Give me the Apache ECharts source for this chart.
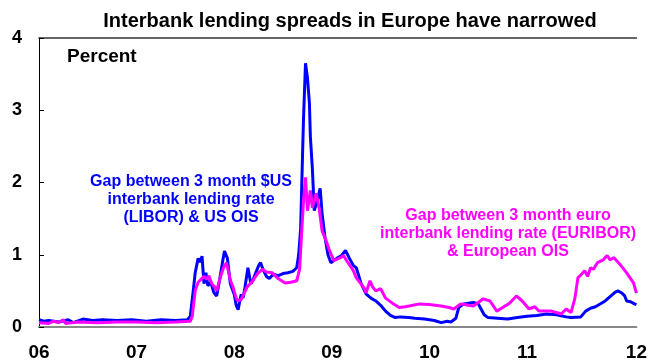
<!DOCTYPE html>
<html><head><meta charset="utf-8">
<script src="https://cdn.jsdelivr.net/npm/echarts@6/dist/echarts.min.js"></script>
<style>html,body{margin:0;padding:0;background:#fff}#c{width:650px;height:363px}</style>
</head><body><div id="c"></div>
<script>
const titleText = "Interbank lending spreads in Europe have narrowed";
const yTicks = [0, 1, 2, 3, 4];
const xTickLabels = {2006:"06",2007:"07",2008:"08",2009:"09",2010:"10",2011:"11",2012:"12"};
const usLabel = "Gap between 3 month $US\ninterbank lending rate\n(LIBOR) & US OIS";
const euLabel = "Gap between 3 month euro\ninterbank lending rate (EURIBOR)\n& European OIS";

const usYears = [2006.00,2006.05,2006.10,2006.20,2006.30,2006.35,2006.45,2006.55,2006.65,2006.80,2006.95,2007.10,2007.25,2007.40,2007.52,2007.55,2007.58,2007.60,2007.63,2007.65,2007.67,2007.69,2007.71,2007.73,2007.76,2007.79,2007.82,2007.85,2007.88,2007.90,2007.93,2007.96,2008.00,2008.02,2008.04,2008.07,2008.09,2008.11,2008.14,2008.17,2008.19,2008.22,2008.25,2008.27,2008.30,2008.33,2008.36,2008.40,2008.45,2008.50,2008.55,2008.60,2008.64,2008.66,2008.68,2008.70,2008.71,2008.73,2008.75,2008.77,2008.78,2008.80,2008.82,2008.85,2008.88,2008.90,2008.93,2008.96,2008.99,2009.05,2009.10,2009.14,2009.18,2009.22,2009.25,2009.30,2009.35,2009.40,2009.45,2009.50,2009.55,2009.60,2009.65,2009.70,2009.79,2009.85,2009.95,2010.05,2010.12,2010.18,2010.22,2010.27,2010.30,2010.35,2010.40,2010.45,2010.50,2010.52,2010.56,2010.60,2010.70,2010.80,2010.90,2011.00,2011.10,2011.20,2011.30,2011.40,2011.45,2011.55,2011.60,2011.65,2011.70,2011.80,2011.85,2011.90,2011.93,2011.97,2012.00,2012.02,2012.06,2012.10,2012.12];
const usValues = [0.10,0.08,0.09,0.07,0.10,0.06,0.11,0.09,0.10,0.09,0.10,0.08,0.10,0.09,0.10,0.15,0.50,0.75,0.95,0.90,0.98,0.60,0.75,0.57,0.62,0.48,0.43,0.65,0.90,1.05,0.95,0.60,0.45,0.30,0.24,0.45,0.40,0.55,0.82,0.60,0.64,0.75,0.85,0.89,0.78,0.70,0.67,0.73,0.71,0.74,0.75,0.77,0.82,1.00,1.36,2.40,2.90,3.65,3.45,3.10,2.63,2.20,1.61,1.75,1.92,1.57,1.24,1.00,0.89,0.95,0.99,1.06,0.95,0.85,0.82,0.60,0.46,0.40,0.36,0.30,0.22,0.16,0.13,0.14,0.13,0.12,0.11,0.09,0.06,0.08,0.07,0.12,0.27,0.32,0.33,0.34,0.32,0.27,0.17,0.13,0.12,0.11,0.13,0.15,0.16,0.18,0.17,0.14,0.13,0.14,0.22,0.26,0.28,0.36,0.42,0.48,0.50,0.47,0.43,0.36,0.35,0.32,0.31];

const euYears = [2006.00,2006.10,2006.15,2006.20,2006.25,2006.27,2006.40,2006.60,2006.80,2007.00,2007.20,2007.40,2007.55,2007.57,2007.60,2007.63,2007.65,2007.69,2007.72,2007.74,2007.77,2007.80,2007.82,2007.86,2007.89,2007.92,2007.96,2007.99,2008.02,2008.04,2008.07,2008.09,2008.13,2008.19,2008.24,2008.29,2008.33,2008.39,2008.45,2008.52,2008.58,2008.64,2008.67,2008.69,2008.71,2008.73,2008.75,2008.78,2008.80,2008.84,2008.87,2008.90,2008.94,2008.97,2009.02,2009.09,2009.12,2009.15,2009.22,2009.25,2009.29,2009.33,2009.35,2009.39,2009.42,2009.45,2009.50,2009.55,2009.62,2009.69,2009.75,2009.79,2009.90,2010.00,2010.12,2010.20,2010.25,2010.28,2010.32,2010.40,2010.45,2010.50,2010.55,2010.62,2010.65,2010.69,2010.75,2010.82,2010.89,2010.95,2011.02,2011.08,2011.12,2011.25,2011.30,2011.35,2011.40,2011.42,2011.45,2011.49,2011.52,2011.55,2011.59,2011.62,2011.65,2011.68,2011.72,2011.78,2011.82,2011.85,2011.89,2011.95,2012.02,2012.09,2012.12];
const euValues = [0.06,0.05,0.08,0.06,0.10,0.05,0.07,0.06,0.07,0.07,0.06,0.07,0.08,0.15,0.50,0.62,0.64,0.70,0.66,0.71,0.60,0.55,0.50,0.70,0.82,0.89,0.65,0.54,0.40,0.36,0.38,0.40,0.55,0.64,0.74,0.80,0.76,0.75,0.67,0.61,0.62,0.64,0.80,1.30,1.75,2.07,1.61,1.89,1.65,1.85,1.64,1.33,1.20,1.08,0.92,0.96,0.99,0.92,0.78,0.68,0.61,0.54,0.47,0.64,0.55,0.50,0.53,0.40,0.33,0.27,0.28,0.29,0.32,0.31,0.29,0.27,0.25,0.28,0.32,0.30,0.29,0.34,0.39,0.36,0.30,0.22,0.27,0.33,0.43,0.36,0.25,0.28,0.22,0.22,0.20,0.18,0.25,0.27,0.20,0.40,0.68,0.72,0.78,0.70,0.82,0.80,0.89,0.93,0.99,0.93,0.96,0.87,0.75,0.61,0.47];

const FONT = "'Liberation Sans', Arial, sans-serif";
const chart = echarts.init(document.getElementById('c'), null, {renderer:'canvas'});
chart.setOption({
  animation:false,
  backgroundColor:'#fff',
  grid:{left:39,right:0,top:38,bottom:36,containLabel:false},
  xAxis:[{type:'value',min:2006,max:2012.12,interval:1,position:'bottom',
    axisLine:{show:true,lineStyle:{color:'#888',width:2}},axisTick:{show:false},splitLine:{show:false},
    axisLabel:{fontFamily:FONT,fontWeight:'bold',fontSize:19,color:'#000',margin:16,showMaxLabel:true,
      formatter:v=>xTickLabels[Math.round(v)]||''}},
    {type:'value',min:2006,max:2012.12,position:'top',axisLine:{show:true,lineStyle:{color:'#333',width:1.5}},
     axisTick:{show:false},axisLabel:{show:false},splitLine:{show:false}}],
  yAxis:{type:'value',min:yTicks[0],max:yTicks[yTicks.length-1],interval:1,
    axisLine:{show:true,lineStyle:{color:'#000',width:1}},
    axisTick:{show:true,inside:true,length:5,lineStyle:{color:'#000'}},
    splitLine:{show:false},
    axisLabel:{fontFamily:FONT,fontWeight:'bold',fontSize:18,color:'#000',margin:17}},
  graphic:[
    {type:'text',x:350,y:21.5,style:{text:titleText,font:"bold 20px "+FONT,fill:'#000',textAlign:'center',textVerticalAlign:'middle'}},
    {type:'text',x:67,y:56.5,style:{text:'Percent',font:"bold 19px "+FONT,fill:'#000',textAlign:'left',textVerticalAlign:'middle'}},
    {type:'text',x:191,y:173,style:{text:usLabel,font:"bold 16px "+FONT,fill:'#0000FF',textAlign:'center',lineHeight:18}},
    {type:'text',x:508,y:207,style:{text:euLabel,font:"bold 16px "+FONT,fill:'#FF00FF',textAlign:'center',lineHeight:18}}
  ],
  series:[
    {type:'line',name:'US',showSymbol:false,data:usYears.map((x,i)=>[x,usValues[i]]),lineStyle:{color:'#0000FF',width:3},z:2},
    {type:'line',name:'EU',showSymbol:false,data:euYears.map((x,i)=>[x,euValues[i]]),lineStyle:{color:'#FF00FF',width:3},z:3}
  ]
});
</script></body></html>
